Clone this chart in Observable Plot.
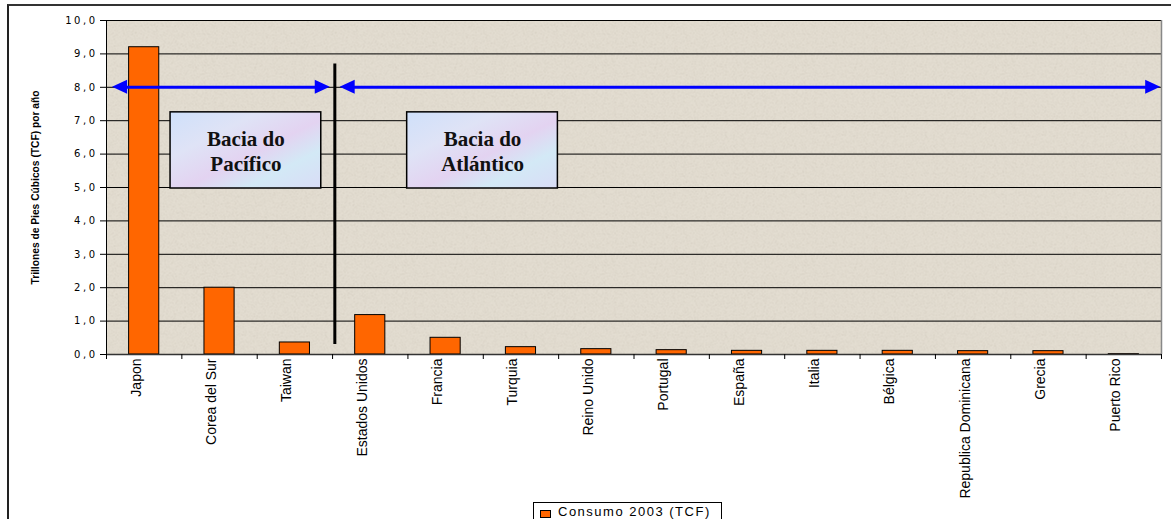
<!DOCTYPE html>
<html>
<head>
<meta charset="utf-8">
<script src="https://cdn.jsdelivr.net/npm/d3@7"></script>
<script src="https://cdn.jsdelivr.net/npm/@observablehq/plot@0.6"></script>
<style>
  html, body { margin: 0; padding: 0; background: #fff; overflow: hidden; }
  #wrap { position: relative; width: 1171px; height: 519px; overflow: hidden; }
  #outer { position: absolute; left: 7px; top: 4px; width: 1200px; height: 600px; border-left: 2px solid #222; border-top: 2px solid #333; box-sizing: border-box; }
  #chart { position: absolute; left: 0; top: 0; }
  #legend { position: absolute; left: 533px; top: 502px; width: 189px; height: 22px; border: 1px solid #000; background: #fff; box-sizing: border-box;
            font-family: "Liberation Sans", Arial, sans-serif; font-size: 13px; letter-spacing: 1.5px; color: #000; white-space: nowrap; }
  #legend .sw { position: absolute; left: 6px; top: 7px; width: 9px; height: 6px; background: #ff6600; border: 1px solid #000; }
  #legend .lb { position: absolute; left: 24px; top: 1px; }
</style>
</head>
<body>
<div id="wrap">
  <div id="outer"></div>
  <div id="chart"></div>
  <div id="legend"><span class="sw"></span><span class="lb"></span></div>
</div>
<script>
// ---- data ----
const categories = ["Japon", "Corea del Sur", "Taiwan", "Estados Unidos", "Francia", "Turquia", "Reino Unido",
  "Portugal", "España", "Italia", "Bélgica", "Republica Dominicana", "Grecia", "Puerto Rico"];
const consumo2003 = [9.2, 2.0, 0.36, 1.18, 0.5, 0.22, 0.16, 0.13, 0.11, 0.11, 0.11, 0.10, 0.10, 0.01];
const yTicks = [0, 1, 2, 3, 4, 5, 6, 7, 8, 9, 10];
const seriesName = "Consumo 2003 (TCF)";
const yTitle = "Trillones de Pies Cúbicos (TCF) por año";
const regionLabels = ["Bacia do\nPacífico", "Bacia do\nAtlántico"];

// ---- annotations (data coordinates: x = category index, y = value) ----
const regionBoxes = [
  {label: regionLabels[0], x1: 0.35, x2: 2.35, y1: 4.97, y2: 7.25},
  {label: regionLabels[1], x1: 3.49, x2: 5.49, y1: 4.97, y2: 7.25}
];
const arrowY = 8;
const arrowSpans = [[-0.42, 2.47], [2.6, 13.49]];
const divider = {x: 2.53, y1: 0.3, y2: 8.7};
const headLen = 0.2, headHalf = 0.21;

const data = categories.map((c, i) => ({i, category: c, value: consumo2003[i]}));

const heads = [];
arrowSpans.forEach(([a, b], k) => {
  heads.push({id: `L${k}`, x: a, y1: arrowY, y2: arrowY});
  heads.push({id: `L${k}`, x: a + headLen, y1: arrowY - headHalf, y2: arrowY + headHalf});
  heads.push({id: `R${k}`, x: b - headLen, y1: arrowY - headHalf, y2: arrowY + headHalf});
  heads.push({id: `R${k}`, x: b, y1: arrowY, y2: arrowY});
});
const shafts = arrowSpans.map(([a, b]) => ({x1: a + headLen * 0.8, x2: b - headLen * 0.8, y: arrowY}));

const boundaries = d3.range(-0.5, categories.length, 1);
const centers = d3.range(0, categories.length);

const plot = Plot.plot({
  width: 1171,
  height: 500,
  marginLeft: 106,
  marginRight: 10,
  marginTop: 20,
  marginBottom: 146,
  x: {type: "linear", domain: [-0.5, categories.length - 0.5]},
  y: {domain: [0, 10]},
  style: {background: "transparent", fontFamily: "'Liberation Sans', Arial, sans-serif", color: "#000"},
  marks: [
    Plot.frame({fill: "url(#paper)", stroke: null}),
    Plot.ruleY(yTicks, {stroke: "#000", strokeWidth: 1}),
    Plot.ruleX([categories.length - 0.5], {stroke: "#888", strokeWidth: 1.5}),
    Plot.rect(regionBoxes, {x1: "x1", x2: "x2", y1: "y1", y2: "y2", fill: "url(#boxfill)", stroke: "#000", strokeWidth: 1.5}),
    Plot.text(regionBoxes, {x: d => (d.x1 + d.x2) / 2, y: d => (d.y1 + d.y2) / 2, text: "label",
      fontFamily: "'Liberation Serif', 'Times New Roman', serif", fontWeight: "bold", fontSize: 21, lineHeight: 1.22, fill: "#111"}),
    Plot.rectY(data, {x1: d => d.i - 0.2, x2: d => d.i + 0.2, y1: 0, y2: "value", fill: "#ff6600", stroke: "#000", strokeWidth: 1}),
    Plot.ruleY(shafts, {x1: "x1", x2: "x2", y: "y", stroke: "#0000ff", strokeWidth: 3}),
    Plot.areaY(heads, {x: "x", y1: "y1", y2: "y2", z: "id", fill: "#0000ff", curve: "linear"}),
    Plot.ruleX([divider], {x: "x", y1: "y1", y2: "y2", stroke: "#000", strokeWidth: 3}),
    Plot.ruleX([-0.5], {stroke: "#000", strokeWidth: 1}),
    Plot.ruleY([0], {stroke: "#333", strokeWidth: 1.5}),
    Plot.axisY({ticks: yTicks, tickSize: 6, tickPadding: 3, tickFormat: d => d.toFixed(1).replace(".", ","),
      fontSize: 10, fontFamily: "'DejaVu Sans', Verdana, sans-serif", label: null}),
    Plot.axisX({ticks: boundaries, tickSize: 5, tickFormat: () => "", label: null}),
    Plot.axisX({ticks: centers, tickSize: 0, tickPadding: 4, tickRotate: -90, dx: -8, fontSize: 14,
      tickFormat: i => categories[i], label: null}),
    Plot.text([yTitle], {frameAnchor: "left", textAnchor: "middle", dx: -71, rotate: -90, text: d => d, fontSize: 10, fontWeight: "bold", fill: "#000"})
  ]
});

// defs: paper background and box gradient
const svg = d3.select(plot);
const defs = svg.insert("defs", ":first-child");
const pf = defs.append("filter").attr("id", "grain").attr("x", 0).attr("y", 0).attr("width", 1).attr("height", 1);
pf.append("feTurbulence").attr("type", "fractalNoise").attr("baseFrequency", 0.9).attr("numOctaves", 2).attr("seed", 3).attr("result", "n");
pf.append("feColorMatrix").attr("in", "n").attr("type", "matrix")
  .attr("values", "0 0 0 0 0.55  0 0 0 0 0.5  0 0 0 0 0.42  0 0 0 -1.4 0.75").attr("result", "g");
pf.append("feComposite").attr("in", "g").attr("in2", "SourceGraphic").attr("operator", "atop");
const pat = defs.append("pattern").attr("id", "paper").attr("patternUnits", "userSpaceOnUse").attr("width", 200).attr("height", 200);
pat.append("rect").attr("width", 200).attr("height", 200).attr("fill", "#e3ddd1").attr("filter", "url(#grain)");
const lg = defs.append("linearGradient").attr("id", "boxfill").attr("x1", 0).attr("y1", 0).attr("x2", 1).attr("y2", 1);
[["0%", "#cfe0fa"], ["30%", "#dfe3f6"], ["55%", "#e3d3f1"], ["75%", "#d3e9f6"], ["100%", "#d9dcf6"]]
  .forEach(([o, c]) => lg.append("stop").attr("offset", o).attr("stop-color", c));

// y tick labels spacing, y title compressed
svg.selectAll('g[aria-label="y-axis tick label"] text').attr("letter-spacing", "2.5px");
svg.selectAll("text").filter(function() { return this.textContent === yTitle; })
  .attr("textLength", 194).attr("lengthAdjust", "spacingAndGlyphs");

document.getElementById("chart").appendChild(plot);
document.querySelector("#legend .lb").textContent = seriesName;
</script>
</body>
</html>
